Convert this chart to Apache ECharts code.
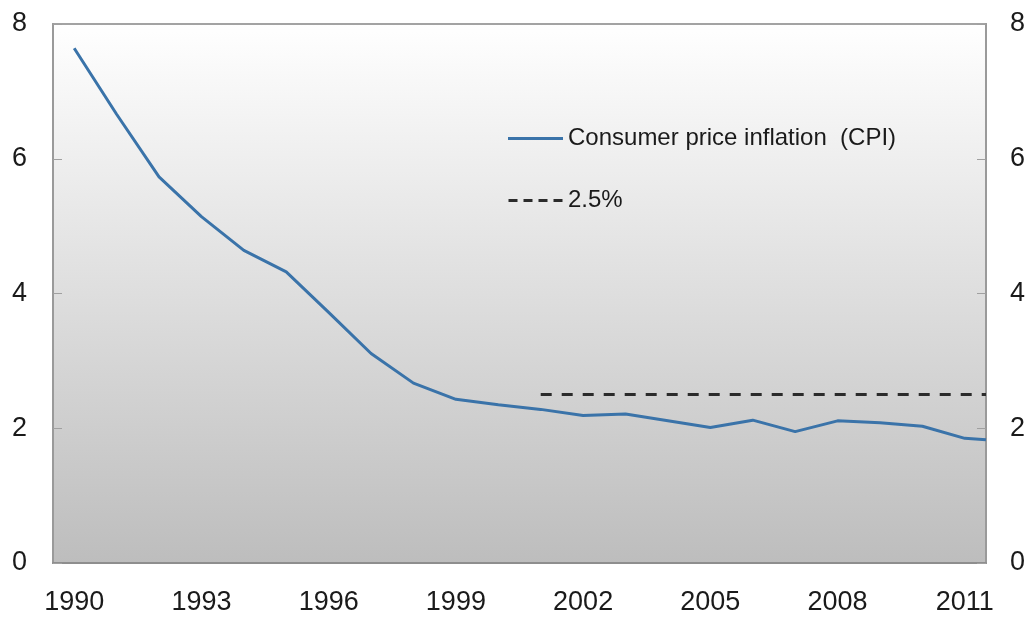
<!DOCTYPE html>
<html>
<head>
<meta charset="utf-8">
<script src="https://cdn.jsdelivr.net/npm/echarts@6/dist/echarts.min.js"></script>
<style>
html,body{margin:0;padding:0;background:#fff;}
#chart{width:1032px;height:617px;}
</style>
</head>
<body>
<div id="chart"></div>
<script>
var years = [1990,1991,1992,1993,1994,1995,1996,1997,1998,1999,2000,2001,2002,2003,2004,2005,2006,2007,2008,2009,2010,2011];
var cpi = [7.64,6.66,5.73,5.14,4.64,4.32,3.72,3.11,2.67,2.43,2.35,2.28,2.19,2.21,2.11,2.01,2.12,1.95,2.11,2.08,2.03,1.85];
var cpiLatest = 1.83;          // latest reading, shown at the end of 2011
var targetValue = 2.5;
var targetStartYear = 2001;
var yTicks = [0,2,4,6,8];
var seriesNames = ['Consumer price inflation  (CPI)', '2.5%'];

var cpiData = years.map(function(y,i){ return [y, cpi[i]]; });
cpiData.push([years[years.length-1] + 0.5, cpiLatest]);
var targetData = [[targetStartYear, targetValue],[years[years.length-1] + 0.5, targetValue]];

var font = 'Liberation Sans, Arial, sans-serif';
var chart = echarts.init(document.getElementById('chart'));
chart.setOption({
  animation: false,
  backgroundColor: '#ffffff',
  grid: {
    left: 53, right: 46, top: 24, bottom: 54,
    show: true,
    borderColor: '#a3a3a3', borderWidth: 2,
    backgroundColor: new echarts.graphic.LinearGradient(0,0,0,1,[
      {offset:0,color:'#ffffff'},{offset:1,color:'#bdbdbd'}])
  },
  legend: {
    orient: 'vertical', left: 503, top: 121,
    itemWidth: 55, itemHeight: 3, itemGap: 37,
    textStyle: {fontFamily: font, fontSize: 24, color: '#1a1a1a', lineHeight: 25},
    data: [
      {name: seriesNames[0], icon: 'path://M0,0H55V3H0Z', itemStyle: {color: '#3a73a9'}},
      {name: seriesNames[1], icon: 'path://M0,0H9V3H0Z M15,0H24V3H15Z M30,0H39V3H30Z M45,0H54V3H45Z', itemStyle: {color: '#2b2b2b'}}
    ]
  },
  xAxis: [{
    type: 'category',
    data: years.map(String),
    boundaryGap: true,
    axisLine: {lineStyle: {color: '#8e8e8e', width: 2}},
    axisTick: {inside: true, length: 8, interval: 2, lineStyle: {color: '#8a8a8a', width: 1}},
    axisLabel: {interval: 2, margin: 26, fontFamily: font, fontSize: 27, color: '#1a1a1a'},
    splitLine: {show: false}
  },{
    type: 'value',
    min: years[0] - 0.5, max: years[years.length-1] + 0.5,
    show: false
  }],
  yAxis: [{
    type: 'value', position: 'left',
    min: yTicks[0], max: yTicks[yTicks.length-1], interval: 2,
    axisLine: {show: true, lineStyle: {color: '#9a9a9a', width: 2}},
    axisTick: {show: true, inside: true, length: 9, lineStyle: {color: '#a0a0a0'}},
    axisLabel: {margin: 26, fontFamily: font, fontSize: 27, color: '#1a1a1a'},
    splitLine: {show: false}
  },{
    type: 'value', position: 'right',
    min: yTicks[0], max: yTicks[yTicks.length-1], interval: 2,
    axisLine: {show: true, lineStyle: {color: '#9a9a9a', width: 2}},
    axisTick: {show: true, inside: true, length: 9, lineStyle: {color: '#a0a0a0'}},
    axisLabel: {margin: 24, fontFamily: font, fontSize: 27, color: '#1a1a1a'},
    splitLine: {show: false}
  }],
  series: [{
    name: seriesNames[0],
    type: 'line', xAxisIndex: 1, yAxisIndex: 0,
    data: cpiData,
    symbol: 'none',
    lineStyle: {color: '#3a73a9', width: 3},
    itemStyle: {color: '#3a73a9'}
  },{
    name: seriesNames[1],
    type: 'line', xAxisIndex: 1, yAxisIndex: 0,
    data: targetData,
    symbol: 'none',
    lineStyle: {color: '#2b2b2b', width: 3, type: [11,10]},
    itemStyle: {color: '#2b2b2b'}
  }]
});
</script>
</body>
</html>
